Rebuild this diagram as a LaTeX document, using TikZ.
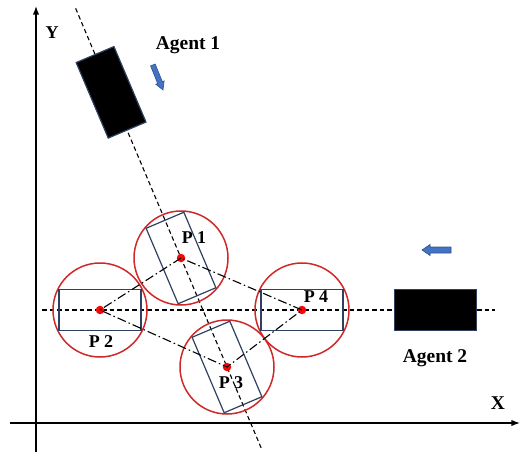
\documentclass[tikz,border=0pt]{standalone}
\usepackage{fontspec}
\setmainfont{Liberation Serif}
\usepackage{tikz}
\usetikzlibrary{arrows.meta,calc}

\definecolor{navy}{RGB}{47,64,96}
\definecolor{ringred}{RGB}{208,40,40}
\definecolor{dotred}{RGB}{240,10,10}
\definecolor{arrblue}{RGB}{68,114,196}
\definecolor{arredge}{RGB}{47,82,143}

\begin{document}
\begin{tikzpicture}[
    x=1pt, y=1pt,
    font=\bfseries\fontsize{18}{20}\selectfont,
    ax/.style    = {-{Latex[length=3mm,width=2.2mm]}, line width=1.3pt},
    track/.style = {draw=black, line width=1.1pt, dash pattern=on 4.5pt off 3pt},
    link/.style  = {draw=black, line width=1.1pt, dash pattern=on 9pt off 3pt on 1.5pt off 3pt},
    ring/.style  = {circle, draw=ringred, line width=1.5pt, minimum size=94pt, inner sep=0pt},
    slot/.style  = {rectangle, draw=navy, line width=1.2pt, minimum width=82pt, minimum height=41pt, inner sep=0pt},
    agent/.style = {slot, fill=black},
    pt/.style    = {circle, fill=dotred, inner sep=0pt, minimum size=8.5pt},
    lbl/.style   = {inner sep=0pt},
    big/.style   = {font=\bfseries\fontsize{19.5}{22}\selectfont},
    blockarr/.style = {fill=arrblue, draw=arredge, line width=0.6pt},
]
\useasboundingbox (-36,-33) rectangle (486,423);

%======== axes ========
\draw[ax] (0,-29) -- (0,417);
\draw[ax] (-26,0) -- (484,0);
\node[lbl] (ylab) at (16,390) {Y};
\node[lbl, big] (xlab) at (462,20) {X};

%======== target points ========
\coordinate (P1) at (145,165);
\coordinate (P2) at (64,113);
\coordinate (P3) at (191,56);
\coordinate (P4) at (266,113);

% --- tracks of the two agents
\coordinate (trackAtop) at ($(P1)!-2.29!(P3)$);
\coordinate (trackAbot) at ($(P1)!1.76!(P3)$);
\coordinate (trackBl) at (6,113);
\coordinate (trackBr) at (459,113);
\draw[track] (trackAtop) -- (trackAbot);
\draw[track] (trackBl) -- (trackBr);

% --- safety circles and slots
\foreach \i in {1,...,4} \node[ring] (c\i) at (P\i) {};
\node[slot, rotate=-67] (s1) at (P1) {};
\node[slot] (s2) at (P2) {};
\node[slot, rotate=-67] (s3) at (P3) {};
\node[slot] (s4) at (P4) {};

\foreach \i in {1,...,4} \node[pt] (p\i) at (P\i) {};
\draw[link] (p1.center) -- (p2.center) -- (p3.center) -- (p4.center) -- (p1.center);

\node[lbl] (l1) at (158,185) {P 1};
\node[lbl] (l2) at (65,81) {P 2};
\node[lbl] (l3) at (195,40) {P 3};
\node[lbl] (l4) at (280,126) {P 4};

%======== agents ========
\node[agent, rotate=-67] (a1) at ($(P1)!-1.52!(P3)$) {};
\node[agent] (a2) at (399.5,113) {};
\node[lbl, big] (a1lab) at (152,378) {Agent 1};
\node[lbl, big] (a2lab) at (399,65) {Agent 2};

% heading arrows
\filldraw[blockarr, shift={(127,333)}, rotate=-68]
    (0,0) -- (-8,4.5) -- (-8,2.5) -- (-27,2.5) -- (-27,-2.5) -- (-8,-2.5) -- (-8,-4.5) -- cycle;
\filldraw[blockarr, shift={(386,173)}, rotate=180]
    (0,0) -- (-8,5.5) -- (-8,3) -- (-29,3) -- (-29,-3) -- (-8,-3) -- (-8,-5.5) -- cycle;

\end{tikzpicture}
\end{document}
